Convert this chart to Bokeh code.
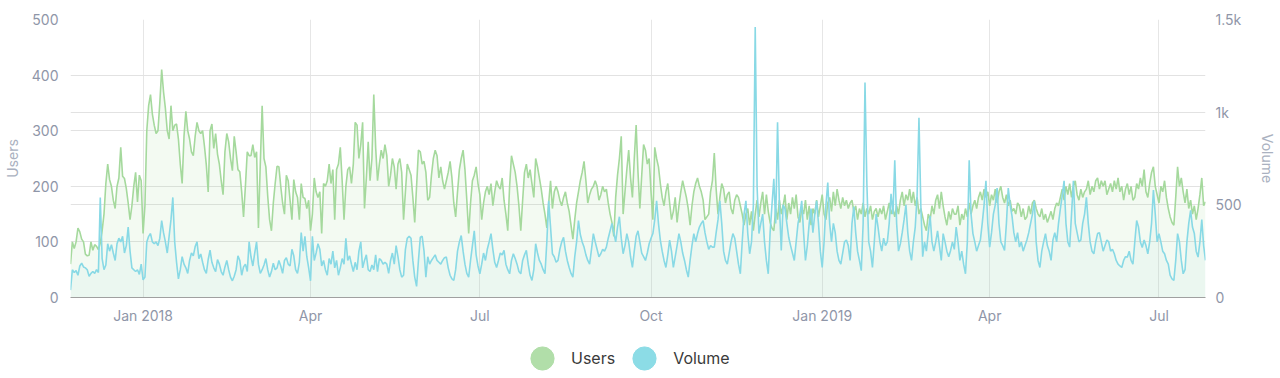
import pandas as pd
from bokeh.plotting import figure
from bokeh.layouts import column
from bokeh.models import (Range1d, LinearAxis, FixedTicker, Grid, Legend, LegendItem,
                          ColumnDataSource, CustomJSTickFormatter)
from bokeh.embed import file_html
from bokeh.resources import INLINE

start_date = "2017-11-23"

users = [
    60, 100, 88, 100, 125, 118, 105, 100, 78, 75, 76, 100, 85, 95,
    92, 86, 98, 120, 150, 205, 240, 212, 200, 175, 160, 200, 215, 270,
    218, 214, 196, 170, 140, 165, 200, 225, 172, 220, 210, 115, 165, 300,
    345, 365, 330, 310, 295, 300, 350, 410, 370, 340, 300, 285, 345, 300,
    310, 312, 285, 240, 205, 290, 335, 300, 285, 262, 255, 290, 315, 300,
    295, 300, 272, 238, 190, 300, 312, 268, 295, 258, 240, 210, 185, 262,
    295, 280, 250, 228, 290, 262, 230, 226, 190, 145, 200, 262, 255, 255,
    275, 252, 262, 125, 240, 345, 250, 235, 182, 140, 120, 170, 205, 236,
    235, 200, 170, 150, 220, 210, 175, 140, 212, 190, 180, 140, 205, 180,
    178, 160, 175, 120, 150, 215, 190, 180, 190, 115, 205, 200, 210, 240,
    205, 230, 140, 230, 240, 270, 210, 140, 200, 230, 235, 205, 240, 315,
    310, 250, 275, 315, 160, 215, 280, 210, 250, 365, 270, 210, 240, 265,
    250, 275, 255, 200, 220, 250, 235, 195, 240, 250, 225, 140, 190, 240,
    230, 220, 180, 135, 200, 265, 262, 240, 245, 225, 175, 180, 220, 250,
    265, 255, 215, 235, 210, 195, 210, 225, 245, 215, 170, 145, 190, 230,
    250, 265, 230, 175, 115, 170, 210, 220, 235, 205, 185, 140, 170, 190,
    200, 185, 205, 165, 190, 210, 200, 195, 215, 175, 150, 120, 200, 255,
    240, 225, 200, 165, 120, 175, 225, 240, 215, 230, 205, 180, 250, 235,
    215, 195, 170, 150, 125, 170, 210, 160, 190, 200, 190, 175, 165, 180,
    190, 170, 155, 130, 105, 140, 170, 190, 210, 225, 245, 210, 170, 185,
    195, 200, 210, 200, 175, 185, 200, 190, 195, 170, 150, 135, 110, 180,
    220, 250, 290, 150, 190, 230, 265, 215, 180, 250, 310, 225, 160, 220,
    275, 265, 240, 250, 190, 140, 270, 250, 235, 205, 180, 165, 190, 205,
    170, 140, 155, 180, 135, 165, 190, 210, 195, 180, 160, 130, 165, 190,
    205, 215, 200, 190, 175, 140, 145, 150, 190, 210, 260, 195, 150, 180,
    205, 195, 170, 185, 190, 160, 150, 175, 185, 180, 165, 150, 130, 150,
    160, 130, 155, 120, 150, 175, 145, 170, 190, 150, 185, 155, 135, 125,
    120, 160, 140, 175, 150, 165, 185, 140, 170, 150, 180, 160, 185, 145,
    135, 160, 150, 175, 140, 165, 130, 160, 150, 175, 145, 165, 185, 150,
    140, 170, 180, 155, 190, 165, 195, 175, 160, 180, 165, 175, 160, 170,
    175, 155, 165, 140, 160, 150, 170, 145, 160, 150, 165, 140, 155, 160,
    145, 160, 150, 165, 140, 155, 170, 150, 160, 145, 165, 150, 175, 190,
    165, 185, 175, 195, 170, 190, 165, 180, 150, 160, 145, 130, 120, 150,
    140, 165, 150, 175, 185, 160, 190, 165, 145, 130, 155, 140, 160, 150,
    150, 165, 130, 150, 140, 160, 145, 170, 150, 165, 175, 160, 180, 190,
    175, 195, 180, 190, 165, 185, 175, 195, 170, 190, 200, 180, 170, 185,
    165, 175, 155, 160, 150, 170, 165, 145, 160, 140, 145, 165, 150, 170,
    175, 160, 150, 145, 160, 140, 150, 135, 145, 155, 140, 160, 170, 165,
    180, 195, 175, 200, 185, 205, 180, 200, 210, 185, 175, 195, 180, 190,
    195, 210, 185, 200, 190, 210, 215, 195, 210, 200, 210, 185, 195, 205,
    190, 210, 195, 215, 190, 200, 175, 195, 205, 185, 200, 175, 180, 205,
    195, 215, 200, 230, 190, 180, 205, 225, 235, 200, 185, 170, 200, 190,
    210, 180, 160, 145, 135, 130, 180, 235, 200, 215, 190, 170, 195, 160,
    175, 150, 165, 140, 160, 185, 215, 165, 172,
]

volume = [
    40, 150, 135, 145, 120, 170, 185, 165, 160, 150, 115, 130, 140, 130,
    150, 135, 540, 210, 150, 175, 290, 250, 285, 240, 200, 290, 320, 300,
    330, 240, 280, 380, 250, 160, 150, 140, 150, 125, 180, 95, 110, 300,
    330, 345, 300, 290, 300, 280, 320, 415, 350, 300, 240, 330, 420, 540,
    300, 190, 100, 150, 220, 180, 160, 130, 200, 240, 225, 275, 300, 210,
    235, 190, 150, 130, 205, 255, 190, 160, 140, 205, 180, 140, 120, 165,
    200, 150, 110, 90, 115, 150, 225, 200, 120, 165, 180, 140, 300, 220,
    170, 240, 300, 180, 130, 150, 175, 210, 150, 110, 140, 185, 150, 160,
    200, 170, 130, 200, 215, 180, 170, 260, 225, 150, 130, 190, 350, 250,
    330, 220, 160, 90, 330, 200, 240, 290, 260, 170, 200, 150, 120, 210,
    180, 250, 160, 200, 120, 160, 210, 180, 320, 200, 225, 180, 140, 190,
    150, 250, 300, 160, 200, 230, 150, 140, 175, 150, 230, 140, 210, 200,
    180, 190, 180, 130, 200, 240, 180, 280, 220, 150, 110, 120, 260, 320,
    330, 320, 200, 110, 60, 200, 325, 330, 250, 110, 220, 180, 200, 215,
    230, 200, 190, 180, 200, 215, 218, 160, 120, 100, 92, 150, 250, 300,
    334, 250, 180, 130, 110, 200, 280, 360, 230, 170, 128, 180, 240, 200,
    260, 300, 345, 260, 190, 162, 200, 240, 230, 254, 180, 150, 128, 200,
    236, 210, 180, 140, 128, 200, 230, 254, 180, 120, 92, 150, 290, 240,
    200, 180, 150, 128, 300, 522, 380, 236, 220, 190, 200, 260, 300, 325,
    250, 200, 162, 130, 110, 220, 300, 415, 340, 300, 272, 230, 200, 180,
    260, 345, 300, 260, 220, 236, 260, 250, 272, 320, 360, 400, 350, 300,
    380, 436, 320, 236, 280, 345, 300, 220, 162, 250, 330, 360, 300, 240,
    220, 200, 240, 290, 320, 345, 420, 522, 400, 310, 250, 200, 162, 230,
    310, 250, 162, 220, 280, 345, 300, 240, 200, 150, 110, 200, 280, 345,
    300, 345, 380, 400, 415, 350, 300, 260, 280, 272, 272, 350, 420, 522,
    400, 250, 200, 180, 240, 300, 345, 320, 250, 180, 128, 300, 450, 522,
    345, 236, 300, 500, 1460, 600, 345, 400, 450, 300, 200, 128, 350, 500,
    640, 400, 945, 500, 254, 500, 480, 400, 325, 280, 240, 200, 300, 400,
    450, 522, 350, 200, 280, 400, 480, 350, 450, 522, 400, 250, 162, 300,
    500, 620, 400, 300, 400, 350, 250, 200, 180, 240, 300, 310, 280, 200,
    400, 490, 350, 250, 200, 145, 400, 1160, 615, 300, 250, 162, 300, 450,
    380, 300, 250, 320, 280, 300, 400, 560, 450, 740, 400, 250, 290, 350,
    420, 500, 350, 250, 200, 300, 380, 550, 970, 500, 220, 300, 250, 350,
    440, 300, 250, 300, 360, 280, 200, 345, 300, 250, 220, 254, 300, 260,
    380, 300, 200, 250, 180, 128, 300, 740, 450, 345, 300, 250, 280, 310,
    400, 500, 630, 400, 272, 350, 450, 500, 590, 400, 300, 280, 254, 400,
    590, 500, 440, 350, 300, 350, 272, 300, 250, 280, 310, 350, 400, 450,
    522, 300, 200, 162, 250, 300, 345, 280, 250, 200, 310, 350, 300, 400,
    480, 550, 630, 400, 300, 272, 450, 630, 400, 350, 300, 310, 400, 450,
    540, 400, 300, 250, 236, 300, 345, 350, 300, 250, 280, 310, 300, 250,
    260, 236, 200, 180, 170, 162, 200, 220, 218, 250, 200, 180, 300, 415,
    380, 300, 270, 310, 280, 236, 300, 400, 580, 450, 300, 345, 300, 250,
    236, 200, 180, 120, 100, 92, 200, 345, 300, 200, 128, 150, 300, 400,
    470, 380, 345, 250, 218, 300, 420, 280, 200,
]

x_tick_dates = ["2018-01-01", "2018-04-01", "2018-07-01", "2018-10-01",
                "2019-01-01", "2019-04-01", "2019-07-01"]
x_tick_labels = ["Jan 2018", "Apr", "Jul", "Oct", "Jan 2019", "Apr", "Jul"]
users_ticks = [0, 100, 200, 300, 400, 500]
volume_ticks = [0, 500, 1000, 1500]
volume_tick_labels = ["0", "500", "1k", "1.5k"]
series_names = ["Users", "Volume"]

users_color = "#a5d99d"
volume_color = "#88d9e5"
label_color = "#8f96a8"
axis_title_color = "#aab1c0"
grid_color = "#e2e2e2"
font = "Inter"

dates = pd.date_range(start_date, periods=len(users), freq="D")
src = ColumnDataSource(dict(date=dates, users=users, volume=volume))
tick_ms = [int(pd.Timestamp(d).value // 10**6) for d in x_tick_dates]

p = figure(width=1280, height=330, x_axis_type="datetime",
           output_backend="svg", toolbar_location=None,
           x_range=Range1d(dates[0], dates[-1]), y_range=Range1d(0, 500),
           min_border_left=70, min_border_right=75, min_border_top=19,
           min_border_bottom=33)
p.extra_y_ranges = {"vol": Range1d(0, 1500)}
p.outline_line_color = None
p.background_fill_color = "white"
p.border_fill_color = "white"

# grids
p.xgrid.ticker = FixedTicker(ticks=tick_ms)
p.xgrid.grid_line_color = "#e6e6e6"
p.ygrid.ticker = FixedTicker(ticks=users_ticks)
p.ygrid.grid_line_color = grid_color
p.add_layout(Grid(dimension=1, ticker=FixedTicker(ticks=volume_ticks),
                  y_range_name="vol", grid_line_color=grid_color))

# glyphs
p.varea(x="date", y1=0, y2="users", source=src, fill_color=users_color, fill_alpha=0.13)
p.line("date", "users", source=src, line_color=users_color, line_width=1.6)
p.varea(x="date", y1=0, y2="volume", source=src, y_range_name="vol",
        fill_color=volume_color, fill_alpha=0.07)
p.line("date", "volume", source=src, y_range_name="vol",
       line_color=volume_color, line_width=1.6)

# x axis
xa = p.xaxis[0]
xa.ticker = FixedTicker(ticks=tick_ms)
xa.formatter = CustomJSTickFormatter(args=dict(tv=tick_ms, lab=x_tick_labels), code="""
for (let i = 0; i < tv.length; i++) { if (Math.abs(tv[i] - tick) < 1e6) return lab[i]; }
return "";
""")
xa.axis_line_color = "#a0a0a0"
xa.major_tick_line_color = None
xa.minor_tick_line_color = None
xa.major_tick_out = 0
xa.minor_tick_out = 0
xa.major_label_standoff = 9
xa.major_label_text_color = label_color
xa.major_label_text_font = font
xa.major_label_text_font_size = "14px"

# y axes
ya = p.yaxis[0]
ya.ticker = FixedTicker(ticks=users_ticks)
ya.axis_label = series_names[0]
ra = LinearAxis(y_range_name="vol", ticker=FixedTicker(ticks=volume_ticks),
                axis_label=series_names[1])
ra.formatter = CustomJSTickFormatter(args=dict(tv=volume_ticks, lab=volume_tick_labels), code="""
const i = tv.indexOf(tick); return i >= 0 ? lab[i] : "";
""")
p.add_layout(ra, "right")
for ax in (ya, ra):
    ax.axis_line_color = None
    ax.major_tick_line_color = None
    ax.minor_tick_line_color = None
    ax.major_tick_out = 0
    ax.minor_tick_out = 0
    ax.major_label_text_color = label_color
    ax.major_label_text_font = font
    ax.major_label_text_font_size = "14px"
    ax.axis_label_text_color = axis_title_color
    ax.axis_label_text_font = font
    ax.axis_label_text_font_style = "normal"
    ax.axis_label_text_font_size = "14px"
ya.major_label_standoff = 12
ya.axis_label_standoff = 8
ra.major_label_standoff = 10
ra.axis_label_standoff = 14

# legend strip below the chart (hidden proxy renderers carry the round legend glyphs)
lg = figure(width=1280, height=48, output_backend="svg", toolbar_location=None,
            x_axis_location=None, y_axis_location=None,
            x_range=Range1d(dates[0], dates[-1]), y_range=Range1d(0, 500),
            min_border=0, outline_line_color=None)
lg.grid.visible = False
lu = lg.scatter("date", "users", source=src, marker="circle",
                fill_color="#b1dea9", line_color="#b1dea9", visible=False)
lv = lg.scatter("date", "volume", source=src, marker="circle",
                fill_color="#8cdce6", line_color="#8cdce6", visible=False)
legend = Legend(items=[LegendItem(label=series_names[0], renderers=[lu]),
                       LegendItem(label=series_names[1], renderers=[lv])],
                orientation="horizontal", location=(443, -9),
                glyph_width=58, glyph_height=58, label_standoff=0, spacing=0,
                label_text_font=font, label_text_font_size="16px",
                label_text_color="#3a3a3a", border_line_color=None,
                background_fill_alpha=0, inactive_fill_alpha=0,
                padding=0, margin=0)
lg.add_layout(legend)

layout = column(p, lg, spacing=0)
open("out.html", "w").write(file_html(layout, INLINE))
